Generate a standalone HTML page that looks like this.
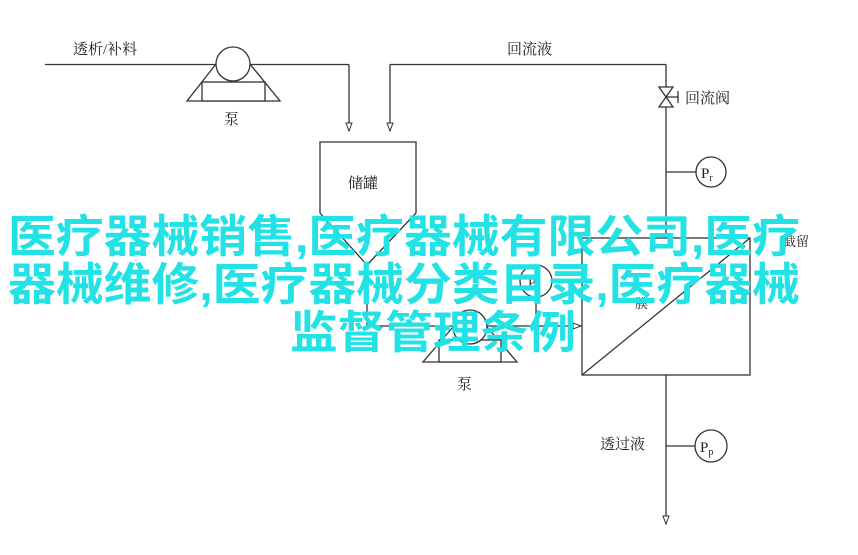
<!DOCTYPE html>
<html><head><meta charset="utf-8"><style>
html,body{margin:0;padding:0;background:#fff;}
svg{display:block;}
</style></head><body>
<svg width="858" height="555" viewBox="0 0 858 555" xmlns="http://www.w3.org/2000/svg" font-family="'Liberation Serif','Noto Serif CJK SC',serif">
<defs>
<marker id="a" markerWidth="10" markerHeight="8" refX="9" refY="4" orient="auto" markerUnits="userSpaceOnUse">
<path d="M1,1 L9,4 L1,7 Z" fill="#fff" stroke="#333" stroke-width="1"/>
</marker>
</defs>
<g stroke="#333" stroke-width="1.3" fill="none">
<line x1="45" y1="64.5" x2="349" y2="64.5"/>
<line x1="349" y1="64.5" x2="349" y2="131" marker-end="url(#a)"/>
<line x1="390" y1="64.5" x2="666" y2="64.5"/>
<line x1="390" y1="64.5" x2="390" y2="131" marker-end="url(#a)"/>
<polygon points="187,101 280,101 250,64 216,64" fill="#fff"/>
<rect x="202" y="82" width="63" height="19" fill="#fff"/>
<circle cx="233" cy="64" r="17" fill="#fff"/>
<path d="M320,142 L416,142 L416,213 L367,265 L320,213 Z" fill="#fff"/>
<line x1="367" y1="265" x2="367" y2="326"/>
<line x1="367" y1="326" x2="581" y2="326" marker-end="url(#a)"/>
<polygon points="423,362 517,362 487,327 453,327" fill="#fff"/>
<rect x="439" y="340" width="62" height="22" fill="#fff"/>
<circle cx="470" cy="327" r="17" fill="#fff"/>
<circle cx="536" cy="281" r="16" fill="#fff"/>
<line x1="536" y1="297" x2="536" y2="326"/>
<rect x="582" y="238" width="168" height="137"/>
<line x1="582" y1="375" x2="750" y2="238"/>
<line x1="666" y1="64.5" x2="666" y2="238"/>
<line x1="666" y1="375" x2="666" y2="524" marker-end="url(#a)"/>
<path d="M659,87 L673,87 L659,107 L673,107 Z" fill="#fff"/>
<line x1="666" y1="97" x2="678" y2="97"/>
<line x1="678" y1="91" x2="678" y2="103"/>
<line x1="666" y1="172" x2="696" y2="172"/>
<circle cx="711" cy="172" r="15" fill="#fff"/>
<line x1="666" y1="446" x2="695" y2="446"/>
<circle cx="711" cy="446" r="16" fill="#fff"/>
</g>
<g fill="#222" font-size="15">
<text x="73" y="54">透析/补料</text>
<text x="224" y="124">泵</text>
<text x="507" y="54">回流液</text>
<text x="348" y="188">储罐</text>
<text x="685" y="103">回流阀</text>
<text x="701" y="178" font-size="15">P<tspan font-size="10" dy="3">r</tspan></text>
<text x="528" y="287" font-size="14">P<tspan font-size="10" dy="2">f</tspan></text>
<text x="457" y="389">泵</text>
<text x="600" y="449">透过液</text>
<text x="700" y="452" font-size="15">P<tspan font-size="10" dy="3">p</tspan></text>
<text x="783" y="246" font-size="13">截留</text>
<text x="635" y="308" font-size="13">膜</text>
</g>
<g fill="#22e2e6" font-family="'Liberation Sans','Noto Sans CJK SC',sans-serif" font-size="45" font-weight="bold">
<text x="8" y="252" textLength="792" lengthAdjust="spacingAndGlyphs">医疗器械销售,医疗器械有限公司,医疗</text>
<text x="8" y="300" textLength="792" lengthAdjust="spacingAndGlyphs">器械维修,医疗器械分类目录,医疗器械</text>
<text x="290" y="348" textLength="286" lengthAdjust="spacingAndGlyphs">监督管理条例</text>
</g>
</svg>
</body></html>
